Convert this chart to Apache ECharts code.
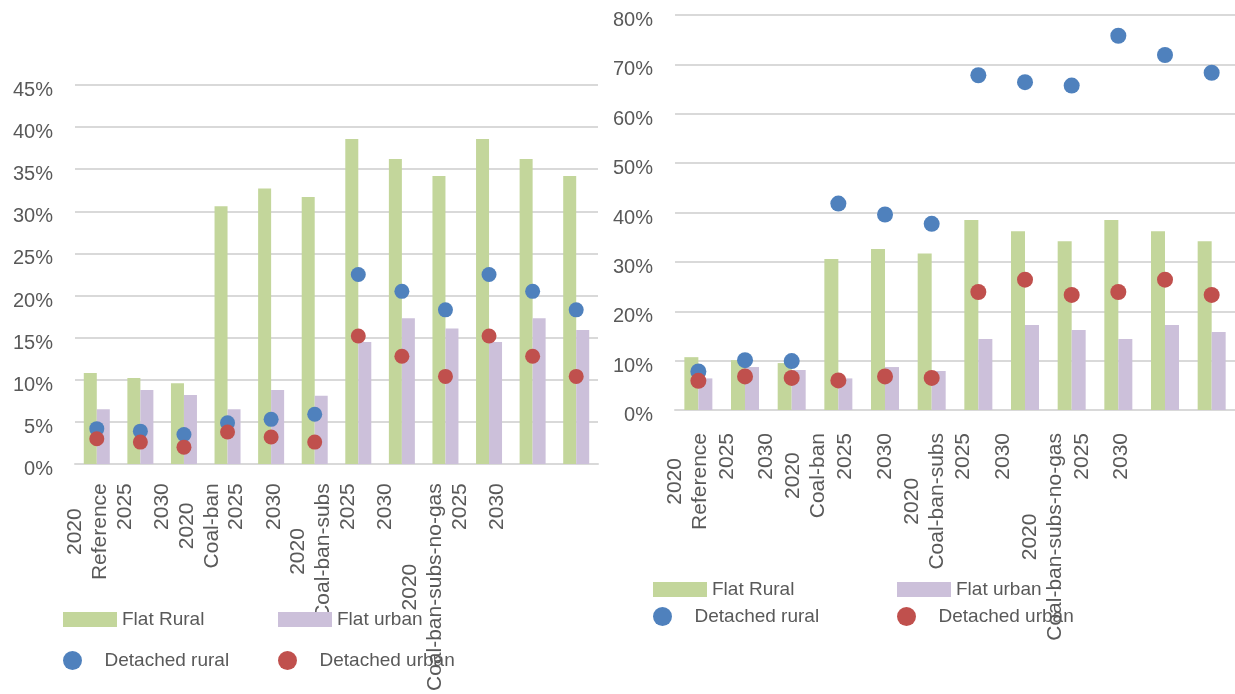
<!DOCTYPE html>
<html>
<head>
<meta charset="utf-8">
<script src="https://cdn.jsdelivr.net/npm/echarts@6/dist/echarts.min.js"></script>
<style>
  html, body { margin: 0; padding: 0; background: #fff; }
  #wrap { position: relative; width: 1235px; height: 694px; overflow: hidden; }
  #left { position: absolute; left: 0; top: 0; width: 610px; height: 694px; }
  #right { position: absolute; left: 610px; top: 0; width: 625px; height: 694px; }
</style>
</head>
<body>
<div id="wrap"><div id="left"></div><div id="right"></div></div>
<script>
const years = ['2020', '2025', '2030'];
const scenarios = ['Reference', 'Coal-ban', 'Coal-ban-subs', 'Coal-ban-subs-no-gas'];
const seriesNames = ['Flat Rural', 'Flat urban', 'Detached rural', 'Detached urban'];

// left panel (%)
const leftFlatRural = [10.8, 10.2, 9.6, 30.6, 32.7, 31.7, 38.6, 36.2, 34.2, 38.6, 36.2, 34.2];
const leftFlatUrban = [6.5, 8.8, 8.2, 6.5, 8.8, 8.1, 14.5, 17.3, 16.1, 14.5, 17.3, 15.9];
const leftDetachedRural = [4.2, 3.9, 3.5, 4.9, 5.3, 5.9, 22.5, 20.5, 18.3, 22.5, 20.5, 18.3];
const leftDetachedUrban = [3.0, 2.6, 2.0, 3.8, 3.2, 2.6, 15.2, 12.8, 10.4, 15.2, 12.8, 10.4];

// right panel (%)
const rightFlatRural = [10.7, 10.1, 9.5, 30.6, 32.6, 31.7, 38.5, 36.2, 34.2, 38.5, 36.2, 34.2];
const rightFlatUrban = [6.4, 8.7, 8.1, 6.4, 8.7, 7.9, 14.4, 17.2, 16.2, 14.4, 17.2, 15.8];
const rightDetachedRural = [7.8, 10.1, 9.9, 41.8, 39.6, 37.7, 67.8, 66.4, 65.7, 75.8, 71.9, 68.3];
const rightDetachedUrban = [5.9, 6.8, 6.5, 6.0, 6.8, 6.5, 23.9, 26.4, 23.3, 23.9, 26.4, 23.3];

const colors = ['#c3d69b', '#ccc0da', '#4f81bd', '#c0504d'];
const textColor = '#595959';
const font = 'Liberation Sans';

// one category per scenario/year pair
const categories = scenarios.flatMap(s => years.map(y => y + '|' + s));

function catLabel(v) {
  const [y, s] = v.split('|');
  return y === years[0] ? `{c|${y}}\n{c|${s}}` : `{c|${y}}`;
}

function legendItem(name, left, centerY, isBar) {
  return {
    data: [name],
    left: left,
    top: centerY - 11,
    padding: 0,
    orient: 'horizontal',
    selectedMode: false,
    icon: isBar ? 'rect' : 'circle',
    itemWidth: 54,
    itemHeight: isBar ? 15 : 19,
    symbolKeepAspect: true,
    textStyle: { fontFamily: font, fontSize: 19, color: textColor }
  };
}

function buildOption(cfg, values) {
  return {
    animation: false,
    textStyle: { fontFamily: font },
    grid: [
      { left: cfg.plotLeft, top: cfg.plotTop, width: cfg.plotWidth, height: cfg.plotHeight },
      { left: cfg.labelLeft, top: cfg.labelTop - 50, width: cfg.labelWidth, height: 50 }
    ],
    xAxis: [
      {
        type: 'category',
        gridIndex: 0,
        data: categories,
        axisTick: { show: false },
        axisLabel: { show: false },
        axisLine: { lineStyle: { color: '#d9d9d9', width: 2 } }
      },
      {
        // label-only axis, spaced as in the source picture
        type: 'category',
        gridIndex: 1,
        data: categories,
        axisTick: { show: false },
        axisLine: { show: false },
        axisLabel: {
          interval: 0,
          rotate: 90,
          margin: 0,
          formatter: catLabel,
          rich: { c: { align: 'center', fontFamily: font, fontSize: 21, color: textColor, lineHeight: 25 } }
        }
      }
    ],
    yAxis: [
      {
        type: 'value',
        gridIndex: 0,
        min: 0,
        max: cfg.yMax,
        interval: cfg.yStep,
        axisLine: { show: false },
        axisTick: { show: false },
        axisLabel: {
          formatter: '{value}%', fontFamily: font, fontSize: 20, color: textColor,
          margin: 22, verticalAlign: 'top', lineHeight: 11
        },
        splitLine: { lineStyle: { color: '#d9d9d9', width: 2 } }
      },
      { type: 'value', gridIndex: 1, show: false }
    ],
    legend: [
      legendItem(seriesNames[0], cfg.legendX1, cfg.legendY1, true),
      legendItem(seriesNames[1], cfg.legendX2, cfg.legendY1, true),
      legendItem(seriesNames[2], cfg.legendX1, cfg.legendY2, false),
      legendItem(seriesNames[3], cfg.legendX2, cfg.legendY2, false)
    ],
    series: [
      { name: seriesNames[0], type: 'bar', data: values[0], barWidth: cfg.barWidth, barGap: '0%', itemStyle: { color: colors[0] } },
      { name: seriesNames[1], type: 'bar', data: values[1], barWidth: cfg.barWidth, barGap: '0%', itemStyle: { color: colors[1] } },
      { name: seriesNames[2], type: 'scatter', data: values[2], symbolSize: cfg.dot, itemStyle: { color: colors[2], opacity: 1 }, z: 3 },
      { name: seriesNames[3], type: 'scatter', data: values[3], symbolSize: cfg.dot, itemStyle: { color: colors[3], opacity: 1 }, z: 4 }
    ]
  };
}

const leftChart = echarts.init(document.getElementById('left'));
leftChart.setOption(buildOption({
  plotLeft: 75, plotTop: 85, plotWidth: 523, plotHeight: 379,
  yMax: 45, yStep: 5, barWidth: 13, dot: 15,
  labelLeft: 69, labelWidth: 447, labelTop: 488,
  legendX1: 63, legendX2: 278, legendY1: 621, legendY2: 662
}, [leftFlatRural, leftFlatUrban, leftDetachedRural, leftDetachedUrban]));

const rightChart = echarts.init(document.getElementById('right'));
rightChart.setOption(buildOption({
  plotLeft: 65, plotTop: 15, plotWidth: 566, plotHeight: 395,
  yMax: 80, yStep: 10, barWidth: 14, dot: 16,
  labelLeft: 58, labelWidth: 473, labelTop: 433,
  legendX1: 43, legendX2: 287, legendY1: 591, legendY2: 618
}, [rightFlatRural, rightFlatUrban, rightDetachedRural, rightDetachedUrban]));
</script>
</body>
</html>
